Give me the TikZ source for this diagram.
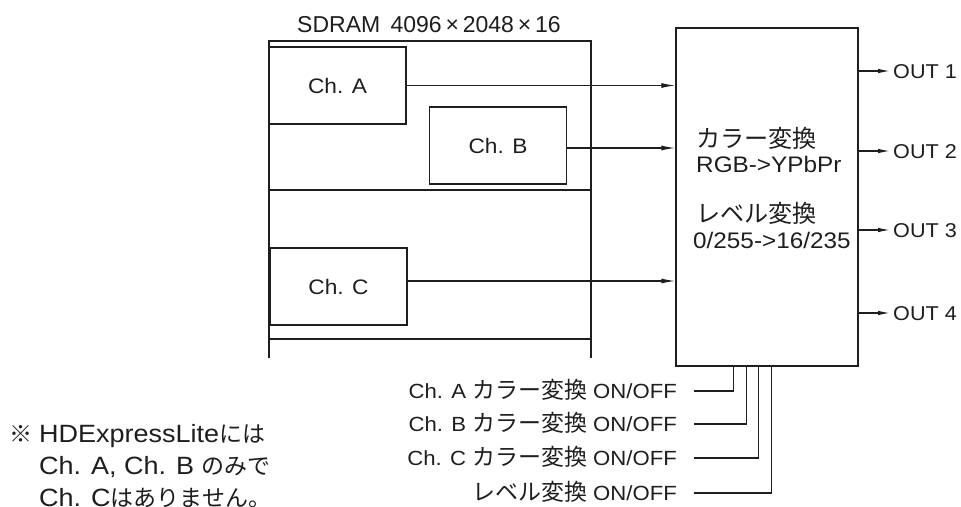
\documentclass[tikz,border=0pt]{standalone}
\usepackage{fontspec}
\setmainfont{Liberation Sans}[FakeStretch=1.08]
\newfontfamily\plain{Liberation Sans}
\newfontfamily\cjk{Noto Sans CJK JP}[Scale=1.12]
\newfontfamily\cjkp{Noto Sans CJK JP}[Scale=1.07]
\newfontfamily\cjkn{Noto Sans CJK JP}[Scale=0.92]
\usetikzlibrary{arrows.meta}
\definecolor{ink}{HTML}{1E1E1E}
\begin{document}
\begin{tikzpicture}[x=1pt,y=-1pt,
  every node/.style={text=ink, inner sep=0pt},
  line/.style={draw=ink, line width=1.2pt},
  chbox/.style={draw=ink, line width=1.2pt, minimum width=137pt, minimum height=77pt, font=\fontsize{21}{24}\selectfont},
  procbox/.style={draw=ink, line width=1.3pt, minimum width=182pt, minimum height=338pt},
  arr/.style={draw=ink, line width=1.2pt, -{Latex[length=14pt,width=5pt]}},
  outarr/.style={draw=ink, line width=1.2pt, -{Latex[length=12pt,width=4.5pt]}},
  lbl/.style={font=\fontsize{20}{24}\selectfont},
  inner/.style={font=\fontsize{22.5}{26}\selectfont, anchor=base west},
  ctl/.style={font=\fontsize{20.5}{24}\selectfont, anchor=base east},
  note/.style={font=\fontsize{25}{28}\selectfont, anchor=base west}]
\useasboundingbox (0,0) rectangle (961,506);
% SDRAM frame
\node[anchor=base west, font=\plain\fontsize{23}{26}\selectfont] (title) at (297,32) {SDRAM\hspace{0.45em}4096\,×\,2048\,×\,16};
\draw[line] (269,358) -- (269,41) -- (591,41) -- (591,358);
\draw[draw=ink, line width=2.2pt] (269,190) -- (591,190);
\draw[line] (269,339) -- (591,339);
% channel boxes
\node[chbox] (chA) at (337.5,85.5) {Ch. A};
\node[chbox] (chB) at (498,145.5) {Ch. B};
\node[chbox] (chC) at (338.5,286.5) {Ch. C};
% processor
\node[procbox] (proc) at (767,197) {};
\node[inner] (t1) at (696,147) {\cjkp カラー変換};
\node[inner] (t2) at (696,172) {RGB->YPbPr};
\node[inner] (t3) at (696,222) {\cjkp レベル変換};
\node[inner] (t4) at (693,248) {0/255->16/235};
% inputs
\draw[arr] (chA.east) -- (chA.east -| proc.west);
\draw[arr] ([yshift=-2.5pt]chB.east) -- ([yshift=-2.5pt]chB.east -| proc.west);
\draw[arr] ([yshift=5.5pt]chC.east) -- ([yshift=5.5pt]chC.east -| proc.west);
% outputs
\node[lbl, anchor=base west] (o1) at (893,78) {OUT 1};
\node[lbl, anchor=base west] (o2) at (893,158) {OUT 2};
\node[lbl, anchor=base west] (o3) at (893,237) {OUT 3};
\node[lbl, anchor=base west] (o4) at (893,320) {OUT 4};
\foreach \o/\y in {o1/71,o2/151,o3/230,o4/313}{
  \draw[outarr] (858,\y) -- ([xshift=-3pt]\o.west |- 0,\y);
}
% control inputs
\node[ctl] (cA) at (677,398) {Ch. A {\cjk カラー変換} ON/OFF};
\node[ctl] (cB) at (677,431) {Ch. B {\cjk カラー変換} ON/OFF};
\node[ctl] (cC) at (677,465) {Ch. C {\cjk カラー変換} ON/OFF};
\node[ctl] (cL) at (677,500) {{\cjk レベル変換} ON/OFF};
\draw[line] ([xshift=17pt,yshift=7pt]cA.base east) -| ([xshift=58pt]proc.south west);
\draw[line] ([xshift=17pt,yshift=7pt]cB.base east) -| ([xshift=71pt]proc.south west);
\draw[line] ([xshift=17pt,yshift=7pt]cC.base east) -| ([xshift=83pt]proc.south west);
\draw[line] ([xshift=17pt,yshift=7pt]cL.base east) -| ([xshift=96pt]proc.south west);
% note
\node[note] (n0) at (9,442) {\cjkn ※};
\node[note] (n1) at (39,442) {HDExpressLite{\cjkn には}};
\node[note] (n2) at (39,474) {Ch. A, Ch. B {\cjkn のみで}};
\node[note] (n3) at (39,506) {Ch. C{\cjkn はありません。}};
\end{tikzpicture}
\end{document}
